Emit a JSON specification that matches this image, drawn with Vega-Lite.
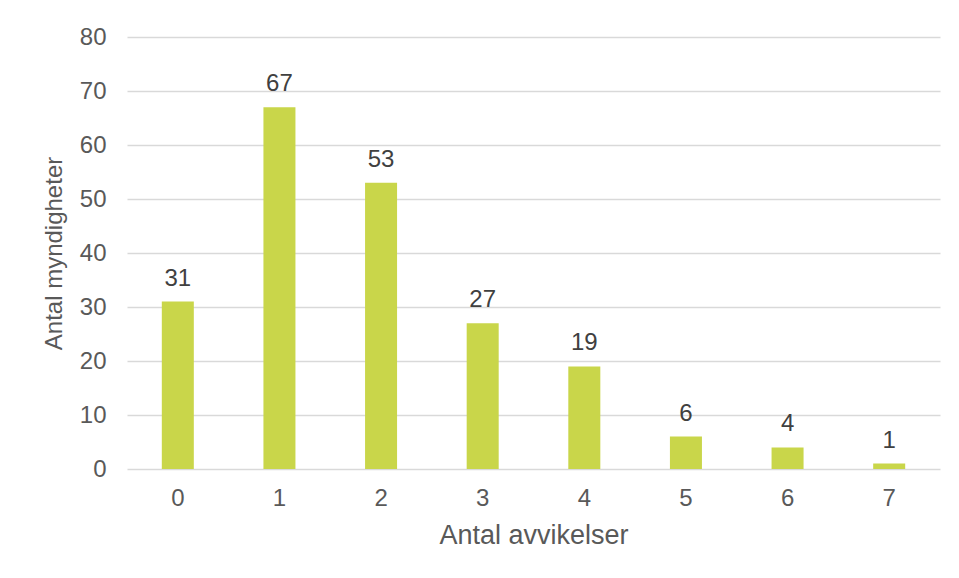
{
  "$schema": "https://vega.github.io/schema/vega-lite/v6.json",
  "width": 813,
  "height": 432,
  "autosize": {"type": "none"},
  "padding": {"left": 127, "top": 37, "right": 19, "bottom": 109},
  "background": "white",
  "config": {
    "view": {"stroke": null},
    "font": "Liberation Sans"
  },
  "data": {
    "values": [
      {"avvikelser": "0", "antal": 31},
      {"avvikelser": "1", "antal": 67},
      {"avvikelser": "2", "antal": 53},
      {"avvikelser": "3", "antal": 27},
      {"avvikelser": "4", "antal": 19},
      {"avvikelser": "5", "antal": 6},
      {"avvikelser": "6", "antal": 4},
      {"avvikelser": "7", "antal": 1}
    ]
  },
  "encoding": {
    "x": {
      "field": "avvikelser",
      "type": "ordinal",
      "sort": null,
      "scale": {"paddingInner": 0.685, "paddingOuter": 0.3425},
      "axis": {
        "title": "Antal avvikelser",
        "labelAngle": 0,
        "labelFontSize": 24,
        "labelColor": "#595959",
        "labelPadding": 17,
        "ticks": false,
        "domain": false,
        "titleFontSize": 27,
        "titleFontWeight": "normal",
        "titleColor": "#595959",
        "titlePadding": 12
      }
    },
    "y": {
      "field": "antal",
      "type": "quantitative",
      "scale": {"domain": [0, 80], "nice": false},
      "axis": {
        "title": "Antal myndigheter",
        "values": [0, 10, 20, 30, 40, 50, 60, 70, 80],
        "labelFontSize": 24,
        "labelColor": "#595959",
        "labelPadding": 21,
        "ticks": false,
        "domain": false,
        "gridColor": "#D9D9D9",
        "gridWidth": 1.5,
        "titleFontSize": 24,
        "titleFontWeight": "normal",
        "titleColor": "#595959",
        "titlePadding": 13
      }
    }
  },
  "layer": [
    {"mark": {"type": "bar", "color": "#C9D64A"}},
    {
      "mark": {"type": "text", "baseline": "alphabetic", "dy": -16, "fontSize": 24, "color": "#404040"},
      "encoding": {"text": {"field": "antal", "type": "quantitative"}}
    }
  ]
}
